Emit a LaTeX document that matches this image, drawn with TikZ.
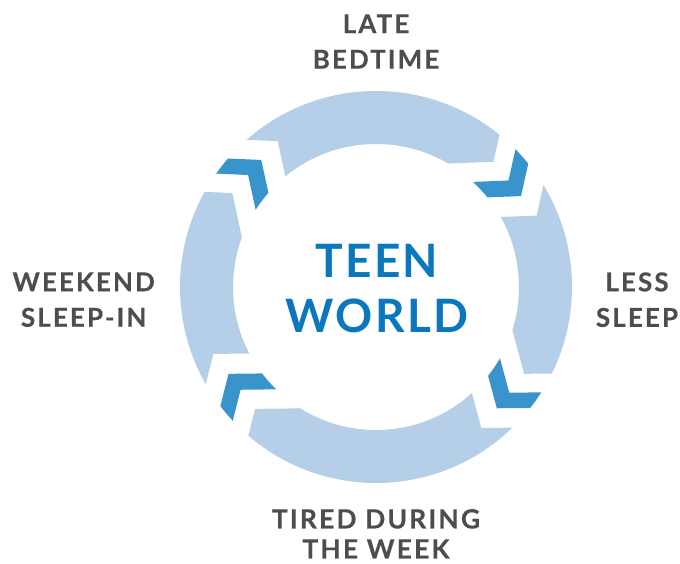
\documentclass[tikz,border=0pt]{standalone}
\usepackage{fontspec}
\setmainfont{Lato}
\usepackage{tikz}
\definecolor{RingBlue}{HTML}{B4CFE7}
\definecolor{ChevronBlue}{HTML}{3A94CC}
\definecolor{TitleBlue}{HTML}{0B78BE}
\definecolor{Slate}{HTML}{4D4D4F}
\newfontfamily\labelfont[LetterSpace=8,FakeBold=0.4]{Lato}
\newfontfamily\titlefont[LetterSpace=5]{Lato}

\begin{document}
\begin{tikzpicture}[x=1pt,y=1pt,
    steplabel/.style={align=center,text=Slate,inner sep=0pt,
      font=\labelfont\bfseries\fontsize{26}{35.5}\selectfont},
    centrelabel/.style={align=center,text=TitleBlue,inner sep=0pt,
      font=\titlefont\bfseries\fontsize{46}{55}\selectfont}]
  \useasboundingbox (-376,-277) rectangle (304,287);
  % cut points around each gap (gap frame: x radial, y counterclockwise)
  \foreach \g/\a in {tr/38.8,br/-38.4,bl/217.2,tl/138.8}{
    \begin{scope}[rotate=\a]
      \coordinate (\g-ei) at (110,68.4);
      \coordinate (\g-ev) at (170,24);
      \coordinate (\g-eo) at (230,72);
      \coordinate (\g-ef) at (420,72);
      \coordinate (\g-si) at (110,-0.6);
      \coordinate (\g-sv) at (170,-45);
      \coordinate (\g-so) at (230,3);
      \coordinate (\g-sf) at (420,3);
    \end{scope}
  }
  % ring segments, notched start and pointed end
  \foreach \s/\e/\m in {tl/tr/88.8,tr/br/0.2,br/bl/269.4,bl/tl/178}{
    \begin{scope}
      \clip (0,0) -- (\e-ei) -- (\e-ev) -- (\e-eo) -- (\e-ef) -- (\m:800)
        -- (\s-sf) -- (\s-so) -- (\s-sv) -- (\s-si) -- cycle;
      \fill[RingBlue,even odd rule] (0,0) circle (196) (0,0) circle (143);
    \end{scope}
  }
  % chevrons in the gaps
  \foreach \a in {38.8,-38.4,217.2,138.8}{
    \begin{scope}[rotate=\a]
      \clip (230,48) -- (170,0) -- (110,44.4) -- (110,24.4) -- (170,-20)
        -- (230,28) -- cycle;
      \fill[ChevronBlue,even odd rule] (0,0) circle (196) (0,0) circle (143);
    \end{scope}
  }
  \node[centrelabel] (world) at (1,-2) {TEEN\\WORLD};
  \node[steplabel] (bedtime) at (0,245.5) {LATE\\BEDTIME};
  \node[steplabel] (sleep) at (261,-12.7) {LESS\\SLEEP};
  \node[steplabel,font=\labelfont\bfseries\fontsize{26.5}{30}\selectfont]
    (tired) at (0,-246.8) {TIRED DURING\\THE WEEK};
  \node[steplabel] (weekend) at (-292.3,-12.7) {WEEKEND\\SLEEP-IN};
\end{tikzpicture}
\end{document}
